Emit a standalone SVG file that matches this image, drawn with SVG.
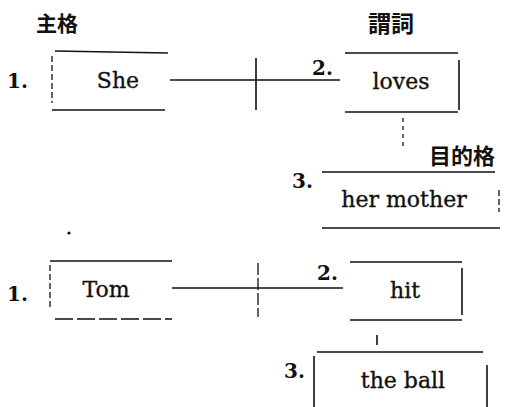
<svg xmlns="http://www.w3.org/2000/svg" width="505" height="407" viewBox="0 0 505 407">
<style>
.w{font-family:"DejaVu Serif","Liberation Serif",serif;font-size:22px;fill:#111;stroke:#111;stroke-width:0.35}
.n{font-family:"DejaVu Serif","Liberation Serif",serif;font-size:20px;font-weight:bold;fill:#111}
.c{font-family:"Noto Sans CJK JP","Noto Sans CJK SC",sans-serif;font-size:21px;font-weight:bold;fill:#111}
.l{stroke:#111;stroke-width:1.6;fill:none}
.d{stroke:#111;stroke-width:1.3;fill:none;stroke-dasharray:6 3}
</style>
<rect width="505" height="407" fill="#fff"/>
<g id="labels">
<text class="c" x="36" y="31">主格</text>
<text class="c" x="368" y="32" style="font-size:23px">謂詞</text>
<text class="c" x="429" y="164" style="font-size:22px">目的格</text>
<circle cx="69" cy="233" r="1.6" fill="#111"/>
</g>
<g id="s1-subject">
<text class="n" x="7" y="88">1.</text>
<path class="l" d="M55 51 L168 53"/>
<path class="d" d="M52 56 V103"/>
<path class="l" d="M52 110 H165"/>
<text class="w" x="118" y="88" text-anchor="middle">She</text>
</g>
<g id="s1-verb">
<text class="n" x="312" y="75">2.</text>
<path class="l" d="M345 53 H458"/>
<path class="l" d="M459 60 V110"/>
<path class="l" d="M345 112 H458"/>
<text class="w" x="401" y="89" text-anchor="middle">loves</text>
</g>
<g id="s1-object">
<text class="n" x="292" y="188">3.</text>
<path class="l" d="M322 172 H495"/>
<path class="l" d="M322 228 H500"/>
<path class="d" d="M499 190 V212"/>
<text class="w" x="404" y="207" text-anchor="middle">her mother</text>
</g>
<g id="s2-subject">
<text class="n" x="7" y="301">1.</text>
<path class="l" d="M50 261 H172"/>
<path class="d" d="M50 265 V308"/>
<path class="d" d="M55 319 H172" style="stroke-dasharray:18 4"/>
<text class="w" x="106" y="297" text-anchor="middle">Tom</text>
</g>
<g id="s2-verb">
<text class="n" x="317" y="280">2.</text>
<path class="l" d="M350 262 H462"/>
<path class="l" d="M462 268 V315"/>
<path class="l" d="M350 320 H462"/>
<text class="w" x="405" y="298" text-anchor="middle">hit</text>
</g>
<g id="s2-object">
<text class="n" x="284" y="378">3.</text>
<path class="l" d="M317 352 H483"/>
<path class="l" d="M314 356 V407"/>
<path class="l" d="M487 365 V407"/>
<text class="w" x="403" y="388" text-anchor="middle">the ball</text>
</g>
<g id="connectors">
<path class="l" d="M170 80 H340"/>
<path class="l" d="M256 58 V110"/>
<path class="d" d="M403 118 V150" style="stroke-dasharray:4 4"/>
<path class="l" d="M172 288 H343"/>
<path class="d" d="M258 263 V317" style="stroke-dasharray:12 3"/>
<path class="l" d="M377 335 V345"/>
</g>
</svg>
